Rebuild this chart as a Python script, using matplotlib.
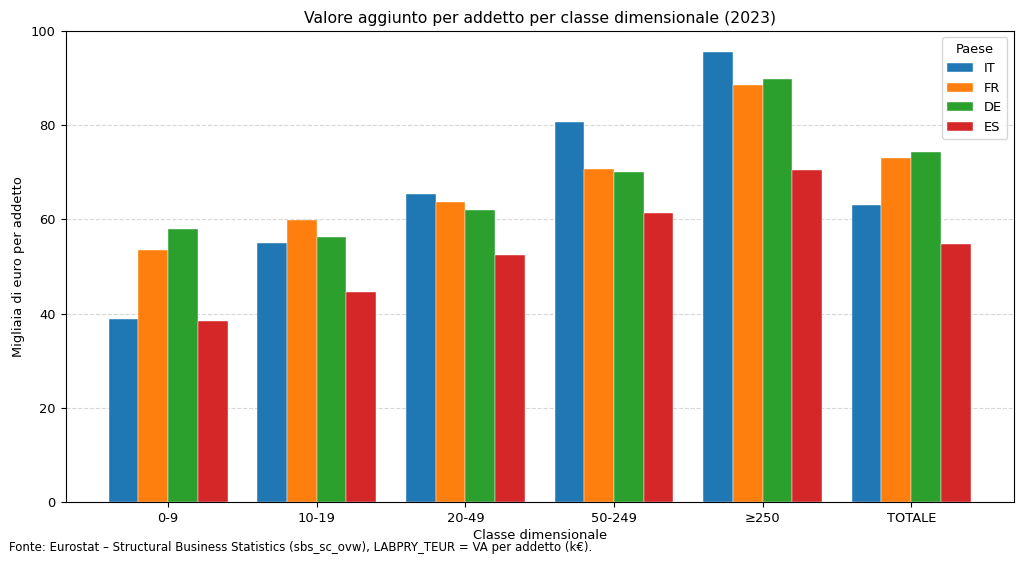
import numpy as np
import matplotlib.pyplot as plt

# Dati (migliaia di euro per addetto)
classi = ["0-9", "10-19", "20-49", "50-249", "≥250", "TOTALE"]
paesi = ["IT", "FR", "DE", "ES"]
va_it = [38.9, 55.0, 65.3, 80.6, 95.5, 63.1]
va_fr = [53.6, 59.9, 63.6, 70.8, 88.5, 73.0]
va_de = [58.0, 56.3, 62.1, 70.0, 89.9, 74.4]
va_es = [38.5, 44.6, 52.5, 61.3, 70.4, 54.8]

serie = [va_it, va_fr, va_de, va_es]
colori = ["#1f77b4", "#ff7f0e", "#2ca02c", "#d62728"]

plt.rcParams["font.size"] = 9.4

fig, ax = plt.subplots(figsize=(10.24, 5.63), dpi=100)

x = np.arange(len(classi))
width = 0.2
for i, (paese, valori) in enumerate(zip(paesi, serie)):
    ax.bar(x + (i - 1.5) * width, valori, width, label=paese,
           color=colori[i], edgecolor="white", linewidth=0.3)

ax.set_xticks(x)
ax.set_xticklabels(classi)
ax.set_ylim(0, 100)
ax.set_xlabel("Classe dimensionale", labelpad=3)
ax.set_ylabel("Migliaia di euro per addetto")
ax.set_title("Valore aggiunto per addetto per classe dimensionale (2023)")
ax.grid(axis="y", linestyle="--", alpha=0.5)
ax.set_axisbelow(True)
ax.legend(title="Paese", loc="upper right")

fig.text(0.009, 0.022,
         "Fonte: Eurostat – Structural Business Statistics (sbs_sc_ovw), LABPRY_TEUR = VA per addetto (k€).",
         fontsize=8.45)
fig.subplots_adjust(left=0.064, right=0.99, top=0.945, bottom=0.108)
fig.savefig("out.png", dpi=100)
